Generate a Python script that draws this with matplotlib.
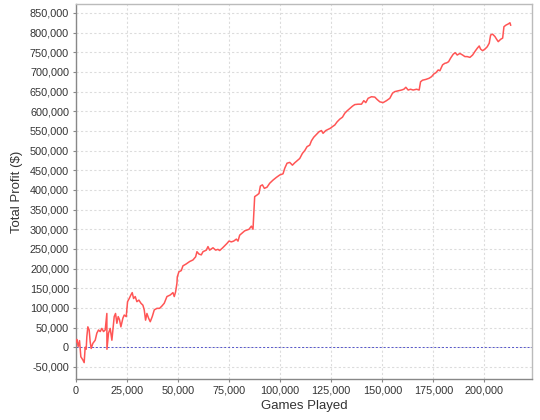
import matplotlib
matplotlib.use("Agg")
import matplotlib.pyplot as plt
from matplotlib.ticker import FuncFormatter, MultipleLocator

games = [80, 400, 1060, 1720, 2370, 3350, 4000, 4490, 4980, 5310, 5800, 6450, 6940, 7430,
         8250, 9400, 10210, 11030, 11850, 12660, 13480, 14300, 15110, 15150, 15930, 16750,
         17570, 18060, 18710, 19360, 20020, 20670, 21320, 21980, 22960, 23610, 24590, 25250,
         26060, 26880, 27530, 28190, 29000, 29820, 30800, 31790, 32770, 33420, 34070, 34730,
         35540, 36360, 37340, 38320, 39630, 40930, 42080, 43220, 44530, 46160, 47470, 48120,
         48770, 49430, 49600, 50400, 51560, 52360, 54000, 55640, 57270, 58580, 59230, 60210,
         61360, 62180, 63810, 64630, 65440, 67080, 68380, 69510, 70340, 71650, 72800, 73930,
         74910, 76080, 77210, 78530, 79330, 80150, 81470, 82600, 83730, 84710, 85880, 86670,
         87450, 87500, 88630, 89610, 90290, 91270, 92250, 93540, 94850, 96470, 98140, 99760,
         101380, 102210, 103340, 104660, 105980, 107110, 108240, 109560, 110880, 112010,
         113140, 114460, 115300, 116420, 117740, 119020, 120200, 120980, 122300, 123430,
         124610, 125590, 126720, 127840, 129170, 130490, 131620, 132750, 134070, 135390,
         136520, 138140, 139800, 140930, 141910, 143040, 144710, 146330, 147450, 148780,
         150390, 152050, 153670, 155000, 156130, 157750, 159420, 160550, 161530, 162650,
         163830, 165100, 166770, 168040, 168730, 169700, 171330, 172940, 174120, 175250,
         176230, 177360, 178190, 179510, 180640, 181470, 182450, 183430, 184710, 185690,
         186670, 188000, 189320, 190450, 191570, 192890, 194220, 195350, 196470, 197450,
         198140, 199120, 200250, 201380, 202350, 203040, 204020, 205150, 205980, 206770,
         207950, 208930, 209560, 210540, 211670, 212500, 212840]

profit = [14000, 20000, 2000, 17000, -24000, -32000, -39000, 0, -5000, 27000, 52000, 44000,
          14000, -3000, 10000, 18000, 36000, 44000, 40000, 48000, 40000, 44000, 86000, -5000,
          36000, 48000, 18000, 44000, 78000, 86000, 61000, 78000, 70000, 52000, 74000, 82000,
          78000, 116000, 124000, 133000, 139000, 124000, 129000, 116000, 120000, 112000,
          107000, 95000, 69000, 86000, 74000, 65000, 78000, 95000, 99000, 99000, 105000,
          112000, 129000, 133000, 139000, 129000, 141000, 163000, 179000, 192000, 195000,
          207000, 212000, 218000, 222000, 230000, 243000, 237000, 235000, 243000, 247000,
          256000, 247000, 253000, 247000, 249000, 246000, 252000, 258000, 264000, 270000,
          268000, 270000, 275000, 270000, 285000, 291000, 296000, 298000, 300000, 308000,
          300000, 374000, 383000, 387000, 391000, 410000, 413000, 404000, 407000, 417000,
          425000, 432000, 438000, 441000, 455000, 468000, 470000, 463000, 469000, 474000,
          480000, 493000, 500000, 510000, 514000, 525000, 534000, 541000, 548000, 551000,
          544000, 551000, 554000, 557000, 561000, 565000, 573000, 580000, 585000, 595000,
          601000, 607000, 613000, 617000, 618000, 618000, 627000, 622000, 633000, 637000,
          636000, 630000, 624000, 622000, 627000, 633000, 646000, 650000, 652000, 654000,
          656000, 661000, 654000, 656000, 654000, 656000, 654000, 675000, 679000, 681000,
          684000, 688000, 695000, 698000, 705000, 703000, 718000, 722000, 723000, 726000,
          735000, 745000, 749000, 743000, 747000, 743000, 739000, 739000, 737000, 743000,
          752000, 760000, 766000, 758000, 754000, 758000, 764000, 773000, 794000, 796000,
          790000, 783000, 777000, 783000, 786000, 815000, 819000, 822000, 825000, 819000]

x_label = "Games Played"
y_label = "Total Profit ($)"

plt.rcParams['font.family'] = ['Liberation Sans', 'DejaVu Sans']

fig = plt.figure(figsize=(5.4, 4.2), dpi=100)
ax = fig.add_axes([76 / 540, 1 - 379 / 420, (532 - 76) / 540, (379 - 4) / 420])

ax.grid(True, color='#dcdcdc', linestyle=(0, (2, 2)), linewidth=0.8)
ax.set_axisbelow(True)
ax.axhline(0, color='#5555cc', linestyle=(0, (2, 2)), linewidth=0.7, zorder=2)
ax.plot(games, profit, color='#ff5555', linewidth=1.1, zorder=3)

ax.set_xlim(0, 223300)
ax.set_ylim(-80600, 872700)
ax.xaxis.set_major_locator(MultipleLocator(25000))
ax.yaxis.set_major_locator(MultipleLocator(50000))
fmt = FuncFormatter(lambda v, p: f"{v:,.0f}")
ax.xaxis.set_major_formatter(fmt)
ax.yaxis.set_major_formatter(fmt)

for s in ['top', 'right']:
    ax.spines[s].set_color('#bbbbbb')
    ax.spines[s].set_linewidth(1.0)
for s in ['left', 'bottom']:
    ax.spines[s].set_color('#888888')
    ax.spines[s].set_linewidth(1.0)

ax.tick_params(axis='both', direction='out', length=2, width=0.8, color='#888888',
               labelsize=7.8, labelcolor='#333333', pad=3)

ax.set_xlabel(x_label, fontsize=9.5, color='#333333', labelpad=3)
ax.set_ylabel(y_label, fontsize=9.5, color='#333333', labelpad=5)

fig.savefig("out.png", dpi=100)
